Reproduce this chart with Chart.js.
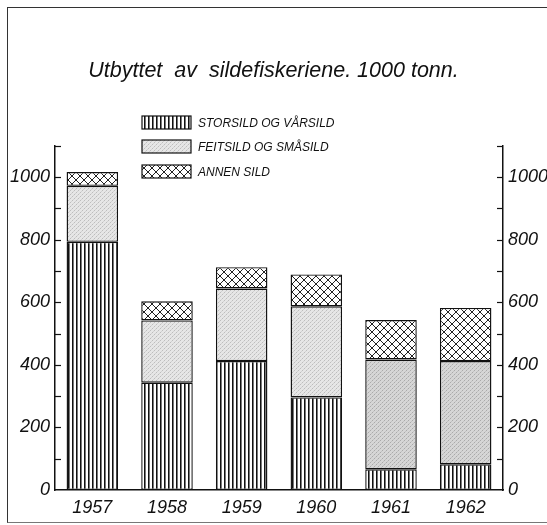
<!DOCTYPE html>
<html><head><meta charset="utf-8">
<script src="https://cdn.jsdelivr.net/npm/chart.js@4/dist/chart.umd.min.js"></script>
<style>
html,body{margin:0;padding:0;background:#fff;}
#wrap{position:relative;width:547px;height:525px;overflow:hidden;}
#frame{position:absolute;left:7px;top:7px;right:-5px;bottom:2px;border-left:1.5px solid #333;border-top:1.5px solid #333;border-bottom:1px solid #777;pointer-events:none;}
</style></head><body>
<div id="wrap"><canvas id="c" width="547" height="525"></canvas><div id="frame"></div></div>
<script>
const years = ['1957','1958','1959','1960','1961','1962'];
const storsild = [793, 343, 412, 296, 66, 82];
const feitsild = [179, 199, 232, 291, 351, 330];
const annen = [44, 61, 68, 102, 126, 170];
const seriesNames = ['STORSILD OG VÅRSILD', 'FEITSILD OG SMÅSILD', 'ANNEN SILD'];
const yTickLabels = [0, 200, 400, 600, 800, 1000];
const tickMarks = [100, 200, 300, 400, 500, 600, 700, 800, 900, 1000, 1100];
const titleText = 'Utbyttet  av  sildefiskeriene. 1000 tonn.';

const FONT = "'Liberation Sans', Arial, sans-serif";

function makePattern(w, h, draw) {
  const c = document.createElement('canvas');
  c.width = w; c.height = h;
  const x = c.getContext('2d');
  draw(x);
  return x.createPattern(c, 'repeat');
}
const stripePat = makePattern(4, 4, x => {
  x.fillStyle = '#fff'; x.fillRect(0, 0, 4, 4);
  x.fillStyle = '#111'; x.fillRect(0, 0, 1, 4);
  x.fillStyle = '#777'; x.fillRect(1, 0, 1, 4);
});
const stipplePat = makePattern(4, 4, x => {
  x.fillStyle = '#e6e6e6'; x.fillRect(0, 0, 4, 4);
  x.fillStyle = '#bdbdbd'; x.fillRect(0, 0, 1, 1); x.fillRect(2, 2, 1, 1);
  x.fillStyle = '#d2d2d2'; x.fillRect(3, 1, 1, 1); x.fillRect(1, 3, 1, 1);
});
const stippleDarkPat = makePattern(4, 4, x => {
  x.fillStyle = '#d6d6d6'; x.fillRect(0, 0, 4, 4);
  x.fillStyle = '#aaaaaa'; x.fillRect(0, 0, 1, 1); x.fillRect(2, 2, 1, 1);
  x.fillStyle = '#c2c2c2'; x.fillRect(3, 1, 1, 1); x.fillRect(1, 3, 1, 1);
});
const crossPat = makePattern(8, 8, x => {
  x.fillStyle = '#fff'; x.fillRect(0, 0, 8, 8);
  x.strokeStyle = '#222'; x.lineWidth = 1;
  x.beginPath();
  x.moveTo(-1, -1); x.lineTo(9, 9);
  x.moveTo(-1, 9); x.lineTo(9, -1);
  x.stroke();
});
const fills = [
  stripePat,
  [stipplePat, stipplePat, stipplePat, stipplePat, stippleDarkPat, stippleDarkPat],
  crossPat
];

const inwardTicks = {
  id: 'inwardTicks',
  afterDraw(chart) {
    const ctx = chart.ctx;
    ctx.save();
    ctx.strokeStyle = '#111';
    ctx.lineWidth = 1.2;
    [['y', 1], ['y2', -1]].forEach(([id, dir]) => {
      const s = chart.scales[id];
      const x0 = dir > 0 ? s.right : s.left;
      tickMarks.forEach(v => {
        const y = Math.round(s.getPixelForValue(v)) + 0.5;
        ctx.beginPath();
        ctx.moveTo(x0, y);
        ctx.lineTo(x0 + dir * 6, y);
        ctx.stroke();
      });
    });
    ctx.restore();
  }
};

const boxLegend = {
  id: 'boxLegend',
  afterDraw(chart) {
    const ctx = chart.ctx;
    ctx.save();
    const bx = 142, bw = 49, bh = 13, tops = [116, 140, 165];
    chart.data.datasets.forEach((ds, i) => {
      const y = tops[i];
      const bg = Array.isArray(ds.backgroundColor) ? ds.backgroundColor[0] : ds.backgroundColor;
      ctx.fillStyle = bg;
      ctx.fillRect(bx, y, bw, bh);
      ctx.strokeStyle = '#111';
      ctx.lineWidth = 1.2;
      ctx.strokeRect(bx, y, bw, bh);
      ctx.fillStyle = '#111';
      ctx.font = 'italic 12px ' + FONT;
      ctx.textBaseline = 'middle';
      ctx.textAlign = 'left';
      ctx.fillText(ds.label, bx + bw + 7, y + bh / 2 + 1);
    });
    ctx.restore();
  }
};

const tickFont = {family: FONT, size: 18, style: 'italic'};
const plainLabel = v => String(v);

new Chart(document.getElementById('c'), {
  type: 'bar',
  data: {
    labels: years,
    datasets: [storsild, feitsild, annen].map((d, i) => ({
      label: seriesNames[i],
      data: d,
      backgroundColor: fills[i],
      borderColor: '#111',
      borderWidth: 1.4,
      borderSkipped: false,
      barPercentage: 0.69,
      categoryPercentage: 1.0,
      yAxisID: 'y'
    }))
  },
  options: {
    responsive: false,
    animation: false,
    devicePixelRatio: 1,
    layout: {padding: {left: 0, right: 0, top: 0, bottom: 5}},
    plugins: {
      legend: {display: false},
      tooltip: {enabled: false},
      title: {
        display: true,
        text: titleText,
        color: '#111',
        font: {family: FONT, size: 21.5, style: 'italic', weight: 'normal'},
        padding: {top: 58, bottom: 62}
      }
    },
    scales: {
      x: {
        stacked: true,
        grid: {display: false, drawTicks: false},
        border: {display: true, color: '#111', width: 1.5},
        ticks: {font: tickFont, color: '#111', padding: 7},
        afterFit: s => { s.height = 30; }
      },
      y: {
        stacked: true,
        position: 'left',
        min: 0, max: 1100,
        afterBuildTicks: s => { s.ticks = yTickLabels.map(v => ({value: v})); },
        grid: {display: false, drawTicks: false},
        border: {display: true, color: '#111', width: 1.5},
        ticks: {font: tickFont, color: '#111', padding: 5, callback: plainLabel},
        afterFit: s => { s.width = 55; }
      },
      y2: {
        position: 'right',
        min: 0, max: 1100,
        afterBuildTicks: s => { s.ticks = yTickLabels.map(v => ({value: v})); },
        grid: {display: false, drawTicks: false},
        border: {display: true, color: '#111', width: 1.5},
        ticks: {font: tickFont, color: '#111', padding: 5, callback: plainLabel},
        afterFit: s => { s.width = 44; }
      }
    }
  },
  plugins: [inwardTicks, boxLegend]
});
</script>
</body></html>
